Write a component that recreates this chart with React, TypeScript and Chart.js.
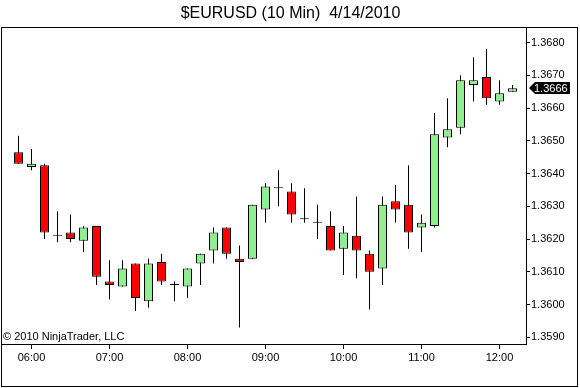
import { useEffect, useRef } from "react";
import { Chart, registerables } from "chart.js";

Chart.register(...registerables);

const titleText = "$EURUSD (10 Min)  4/14/2010";
const copyrightText = "© 2010 NinjaTrader, LLC";

const times = [
  "05:50", "06:00", "06:10", "06:20", "06:30", "06:40", "06:50",
  "07:00", "07:10", "07:20", "07:30", "07:40", "07:50",
  "08:00", "08:10", "08:20", "08:30", "08:40", "08:50",
  "09:00", "09:10", "09:20", "09:30", "09:40", "09:50",
  "10:00", "10:10", "10:20", "10:30", "10:40", "10:50",
  "11:00", "11:10", "11:20", "11:30", "11:40", "11:50",
  "12:00", "12:10",
];

const opens = [
  1.36465, 1.3642, 1.36425, 1.3621, 1.3622, 1.36195, 1.3624, 1.3607, 1.36055, 1.36125,
  1.3601, 1.3613, 1.3606, 1.36055, 1.36125, 1.36165, 1.36235, 1.3614, 1.3614, 1.3629,
  1.36355, 1.36345, 1.3626, 1.3625, 1.3624, 1.3617, 1.3621, 1.36155, 1.3611, 1.36315,
  1.36305, 1.36235, 1.3624, 1.3651, 1.3654, 1.3667, 1.36695, 1.3662, 1.3665,
];
const highs = [
  1.36515, 1.36475, 1.3643, 1.36285, 1.36275, 1.3624, 1.3624, 1.36135, 1.36135, 1.36125,
  1.3614, 1.36155, 1.3607, 1.3611, 1.36155, 1.36235, 1.36235, 1.3618, 1.36305, 1.3637,
  1.3641, 1.3637, 1.36355, 1.36305, 1.36285, 1.3624, 1.3633, 1.36165, 1.3633, 1.36365,
  1.36425, 1.36275, 1.36585, 1.3663, 1.367, 1.36755, 1.3678, 1.36685, 1.3667,
];
const lows = [
  1.3643, 1.3641, 1.362, 1.3619, 1.3619, 1.3616, 1.3606, 1.36015, 1.36055, 1.3598,
  1.3599, 1.3606, 1.3601, 1.3602, 1.3606, 1.36125, 1.3614, 1.3593, 1.3614, 1.3625,
  1.363, 1.3625, 1.3625, 1.362, 1.36165, 1.3609, 1.3608, 1.35985, 1.3606, 1.3625,
  1.3617, 1.3616, 1.36235, 1.3648, 1.3652, 1.3662, 1.3661, 1.3661, 1.3665,
];
const closes = [
  1.3643, 1.3643, 1.3622, 1.3621, 1.362, 1.36235, 1.36085, 1.3606, 1.3611, 1.3602,
  1.36125, 1.3607, 1.3606, 1.3611, 1.36155, 1.3622, 1.36155, 1.3613, 1.36305, 1.3636,
  1.36355, 1.36275, 1.3626, 1.3625, 1.36165, 1.3622, 1.36165, 1.361, 1.36305, 1.3629,
  1.3622, 1.3625, 1.3652, 1.36535, 1.36685, 1.36685, 1.3663, 1.36645, 1.3666,
];

const xTickLabels = ["06:00", "07:00", "08:00", "09:00", "10:00", "11:00", "12:00"];
const yTickValues = [1.359, 1.36, 1.361, 1.362, 1.363, 1.364, 1.365, 1.366, 1.367, 1.368];

const FONT = '"Liberation Sans", Arial, sans-serif';

const framePlugin = {
  id: "ntFrame",
  afterDraw(chart: any) {
    const ctx = chart.ctx as CanvasRenderingContext2D;
    const { left, top, right, bottom } = chart.chartArea;
    ctx.save();
    ctx.strokeStyle = "#000";
    ctx.lineWidth = 1;
    ctx.strokeRect(1.5, Math.round(top) + 0.5, chart.width - 4, chart.height - Math.round(top) - 2);
    ctx.font = `11px ${FONT}`;
    ctx.fillStyle = "#000";
    ctx.textAlign = "left";
    ctx.textBaseline = "alphabetic";
    ctx.fillText(copyrightText, left + 2, bottom - 4);
    // last price marker
    const last = closes[closes.length - 1];
    const y = Math.round(chart.scales.y.getPixelForValue(last));
    ctx.beginPath();
    ctx.moveTo(right + 3, y);
    ctx.lineTo(right + 9, y - 6);
    ctx.lineTo(right + 44, y - 6);
    ctx.lineTo(right + 44, y + 6);
    ctx.lineTo(right + 9, y + 6);
    ctx.closePath();
    ctx.fillStyle = "#000";
    ctx.fill();
    ctx.fillStyle = "#fff";
    ctx.textBaseline = "middle";
    ctx.fillText(last.toFixed(4), right + 8, y + 0.5);
    ctx.restore();
  },
};

export default function App() {
  const ref = useRef<HTMLCanvasElement | null>(null);

  useEffect(() => {
    document.body.style.margin = "0";
    const canvas = ref.current;
    if (!canvas) return;
    Chart.defaults.font.family = FONT;
    const bodyData = times.map((_, i) => ({ x: i, y: [opens[i], closes[i]] }));
    const wickData = times.map((_, i) => ({ x: i, y: [lows[i], highs[i]] }));
    const chart = new Chart(canvas, {
      type: "bar",
      data: {
        datasets: [
          {
            label: "body",
            data: bodyData as any,
            backgroundColor: closes.map((c, i) => (c >= opens[i] ? "#90EE90" : "#FF0000")),
            borderColor: "#000",
            borderWidth: 1,
            borderSkipped: false,
            barThickness: 9,
            minBarLength: 1,
            grouped: false,
            inflateAmount: 0,
            order: 0,
          } as any,
          {
            label: "wick",
            data: wickData as any,
            backgroundColor: "#000",
            borderWidth: 0,
            barThickness: 1,
            grouped: false,
            inflateAmount: 0,
            order: 1,
          } as any,
        ],
      },
      options: {
        animation: false,
        responsive: false,
        maintainAspectRatio: false,
        layout: { padding: { left: 1, right: 0, top: 0, bottom: 0 } },
        plugins: {
          legend: { display: false },
          tooltip: { enabled: false },
          title: {
            display: true,
            text: titleText,
            color: "#000",
            font: { family: FONT, size: 16, weight: "normal" as any },
            padding: { top: 4, bottom: 3.8 },
          },
        },
        scales: {
          x: {
            type: "linear",
            bounds: "data",
            offset: false,
            min: -1.3462,
            max: 39.0385,
            afterFit: (s: any) => {
              s.height = 44;
            },
            afterBuildTicks: (s: any) => {
              s.ticks = xTickLabels.map((l) => ({ value: times.indexOf(l) }));
            },
            ticks: {
              autoSkip: false,
              maxRotation: 0,
              padding: 2,
              color: "#000",
              font: { family: FONT, size: 11 },
              callback: (v: any) => times[Number(v)] ?? "",
            },
            grid: { offset: false, drawOnChartArea: false, drawTicks: true, tickLength: 5, color: "#000" },
            border: { display: true, color: "#000", width: 1 },
          },
          y: {
            type: "linear",
            position: "right",
            bounds: "data",
            min: 1.358795,
            max: 1.368473,
            afterFit: (s: any) => {
              s.width = 54;
            },
            afterBuildTicks: (s: any) => {
              s.ticks = yTickValues.map((v) => ({ value: v }));
            },
            ticks: {
              autoSkip: false,
              padding: 1,
              color: "#000",
              font: { family: FONT, size: 11 },
              callback: (v: any) => Number(v).toFixed(4),
            },
            grid: { drawOnChartArea: false, drawTicks: true, tickLength: 4, color: "#000" },
            border: { display: true, color: "#000", width: 1 },
          },
        },
      },
      plugins: [framePlugin],
    });
    return () => chart.destroy();
  }, []);

  return (
    <div style={{ width: 580, height: 388, background: "#fff" }}>
      <canvas ref={ref} width={580} height={388} style={{ display: "block" }} />
    </div>
  );
}
